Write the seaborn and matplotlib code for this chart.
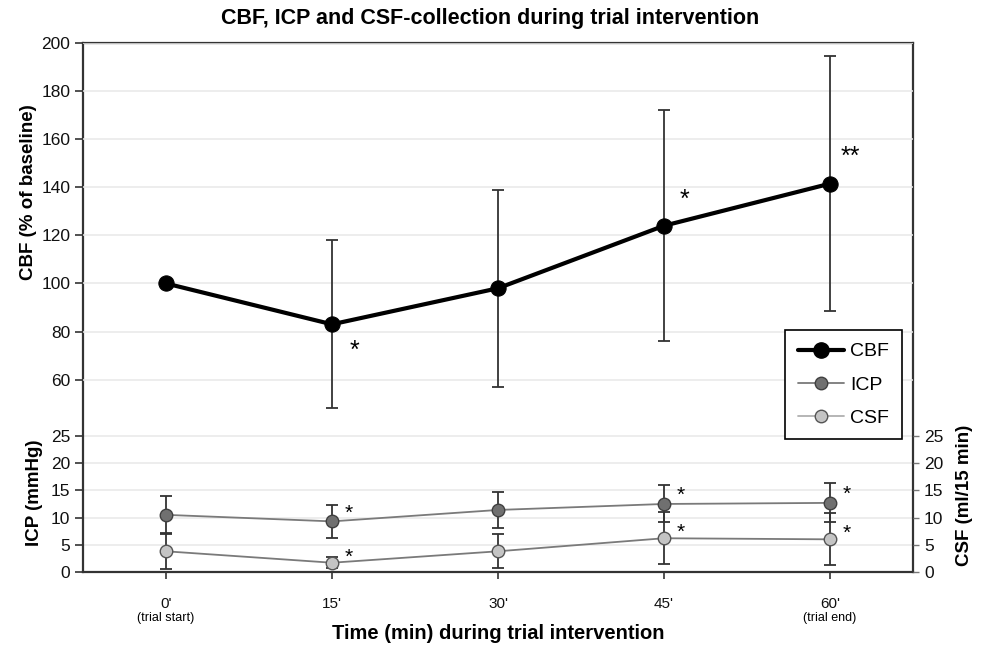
import numpy as np
import pandas as pd
import seaborn as sns
import matplotlib.pyplot as plt
from matplotlib.lines import Line2D

# values
times = ["0'", "15'", "30'", "45'", "60'"]
subnotes = ["(trial start)", "", "", "", "(trial end)"]
cbf_mean = [100, 83, 98, 124, 141.5]
cbf_sd = [0, 35, 41, 48, 53]
icp_mean = [10.5, 9.3, 11.4, 12.5, 12.7]
icp_sd = [3.4, 3.1, 3.3, 3.4, 3.6]
csf_mean = [3.8, 1.7, 3.8, 6.2, 6.0]
csf_sd = [3.2, 1.0, 3.1, 4.8, 4.8]
cbf_stars = ["", "*", "", "*", "**"]
icp_stars = ["", "*", "", "*", "*"]
csf_stars = ["", "*", "", "*", "*"]

df = pd.DataFrame({"pos": np.arange(len(times)), "time": times,
                   "cbf": cbf_mean, "cbf_sd": cbf_sd,
                   "icp": icp_mean, "icp_sd": icp_sd,
                   "csf": csf_mean, "csf_sd": csf_sd})

sns.set_style("white")
plt.rcParams["font.family"] = ["Liberation Sans", "DejaVu Sans"]
plt.rcParams["text.color"] = "black"
plt.rcParams["axes.labelcolor"] = "black"

fig = plt.figure(figsize=(9.81, 6.46), dpi=100)
rect = [0.0846, 0.1146, 0.846, 0.8188]
ax_bot = fig.add_axes(rect)
ax_top = fig.add_axes(rect, sharex=ax_bot)
ax_top.patch.set_visible(False)
ax_csf = ax_bot.twinx()

# broken scale: CBF on top part, ICP/CSF on bottom part of one frame
ax_top.set_ylim(-20, 200)
ax_bot.set_ylim(0, 97.24)
ax_csf.set_ylim(0, 97.24)
ax_bot.set_xlim(-0.5, 4.5)

edge = "#333333"
grid_c = "#e8e8e8"

ax_bot.set_yticks(range(0, 26, 5))
ax_top.set_yticks(range(60, 201, 20))
ax_csf.set_yticks(range(0, 26, 5))
for a in (ax_bot, ax_top):
    a.grid(axis="y", color=grid_c, lw=1.1)
    a.grid(axis="x", visible=False)
    a.set_axisbelow(True)
    a.tick_params(axis="y", direction="out", length=6, width=1.2, color=edge,
                  labelsize=12.5, labelcolor="#111111", left=True, pad=3)
ax_csf.tick_params(axis="y", direction="out", length=4, width=1, color="#777777",
                   labelsize=12.5, labelcolor="#111111", right=True, pad=4)
ax_bot.tick_params(axis="x", direction="out", length=5, width=1.2, color=edge,
                   labelsize=11, labelcolor="#111111", bottom=True, pad=13)
ax_top.tick_params(axis="x", bottom=False, labelbottom=False)

for s in ax_top.spines.values():
    s.set_visible(False)
for s in ax_csf.spines.values():
    s.set_visible(False)
for s in ax_bot.spines.values():
    s.set_color(edge)
    s.set_linewidth(1.6)

# error bars
eb = dict(fmt="none", ecolor=edge, elinewidth=1.3, capsize=4.5, capthick=1.3, zorder=2)
ax_top.errorbar(df["pos"][1:], df["cbf"][1:], yerr=df["cbf_sd"][1:], **eb)
ax_bot.errorbar(df["pos"], df["icp"], yerr=df["icp_sd"], **eb)
ax_bot.errorbar(df["pos"], df["csf"], yerr=df["csf_sd"], **eb)

# lines
sns.lineplot(data=df, x="pos", y="cbf", ax=ax_top, color="black", lw=3,
             marker="o", markersize=11, markerfacecolor="black",
             markeredgecolor="black", zorder=4)
sns.lineplot(data=df, x="pos", y="icp", ax=ax_bot, color="#7a7a7a", lw=1.3,
             marker="o", markersize=9, markerfacecolor="#707070",
             markeredgecolor="#404040", markeredgewidth=1, zorder=4)
sns.lineplot(data=df, x="pos", y="csf", ax=ax_bot, color="#7a7a7a", lw=1.3,
             marker="o", markersize=9, markerfacecolor="#c4c4c4",
             markeredgecolor="#555555", markeredgewidth=1, zorder=4)

# significance marks
for i, s in enumerate(cbf_stars):
    if not s:
        continue
    off = (16, -19) if df["cbf"][i] < 100 else (15, 19)
    ax_top.annotate(s, (df["pos"][i], df["cbf"][i]), xytext=off,
                    textcoords="offset points", ha="center", va="center", fontsize=18)
for col, stars, off in (("icp", icp_stars, (12, 6)), ("csf", csf_stars, (12, 4))):
    for i, s in enumerate(stars):
        if s:
            ax_bot.annotate(s, (df["pos"][i], df[col][i]), xytext=off,
                            textcoords="offset points", ha="center", va="center",
                            fontsize=15)

# axes labels
ax_bot.set_xticks(df["pos"])
ax_bot.set_xticklabels(times, fontsize=11)
for i, note in enumerate(subnotes):
    if note:
        ax_bot.annotate(note, (df["pos"][i], 0), xycoords=("data", "axes fraction"),
                        xytext=(0, -33), textcoords="offset points",
                        ha="center", va="center", fontsize=9)
ax_bot.set_xlabel("Time (min) during trial intervention", fontsize=14.5,
                  fontweight="bold", va="top")
ax_bot.xaxis.set_label_coords(0.5, -0.098)
ax_top.set_xlabel("")
ax_top.set_ylabel("CBF (% of baseline)", fontsize=13.5, fontweight="bold")
ax_top.yaxis.set_label_coords(-0.055, 0.718)
ax_bot.set_ylabel("ICP (mmHg)", fontsize=13.5, fontweight="bold")
ax_bot.yaxis.set_label_coords(-0.048, 0.15)
ax_csf.set_ylabel("CSF (ml/15 min)", fontsize=13.5, fontweight="bold")
ax_csf.yaxis.set_label_coords(1.052, 0.145)

# legend
handles = [
    Line2D([], [], color="black", lw=3, marker="o", markersize=11),
    Line2D([], [], color="#7a7a7a", lw=1.3, marker="o", markersize=9,
           markerfacecolor="#707070", markeredgecolor="#404040"),
    Line2D([], [], color="#b0b0b0", lw=1.3, marker="o", markersize=9,
           markerfacecolor="#c4c4c4", markeredgecolor="#555555"),
]
leg = ax_csf.legend(handles, ["CBF", "ICP", "CSF"], loc="upper left",
                    bbox_to_anchor=(0.846, 0.457), borderaxespad=0, fontsize=14,
                    frameon=True, fancybox=False, edgecolor="black",
                    handlelength=2.4, labelspacing=0.8, borderpad=0.65,
                    handletextpad=0.3)
leg.get_frame().set_linewidth(1.2)
leg.get_frame().set_alpha(1)

fig.suptitle("CBF, ICP and CSF-collection during trial intervention",
             fontsize=15.5, fontweight="bold", y=0.988, color="black")

fig.savefig("out.png", dpi=100)
